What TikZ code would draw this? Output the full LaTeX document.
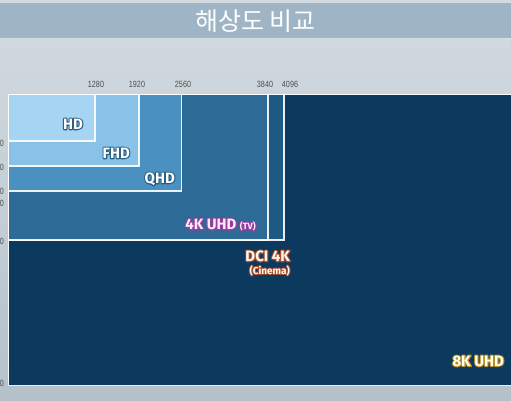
\documentclass[tikz,border=0pt]{standalone}
\usepackage{fontspec}
\setmainfont{Fira Sans}
\newfontfamily\krfont{Noto Sans CJK KR}
\newfontfamily\numfont[FakeStretch=0.8]{Liberation Sans}
% outlined text: #1 = stroke rgb, #2 = stroke width, #3 = text
\newcommand\outl[3]{\rlap{\special{pdf:literal direct #1 RG #2 w 1 j 1 Tr}#3\special{pdf:literal direct 0 Tr}}#3}
\definecolor{bgtop}{HTML}{D0D9DF}
\definecolor{bgbot}{HTML}{B4C1CA}
\definecolor{topstrip}{HTML}{D3DBE1}
\definecolor{titlebar}{HTML}{9FB5C5}
\definecolor{c8k}{HTML}{0C3A5E}
\definecolor{cdci}{HTML}{1C5983}
\definecolor{cuhd}{HTML}{2D6A96}
\definecolor{cqhd}{HTML}{4A90C0}
\definecolor{cfhd}{HTML}{88C2E8}
\definecolor{chd}{HTML}{A6D4F3}
\definecolor{numgray}{HTML}{4E4E4E}
\tikzset{
  res/.style={draw=white, draw opacity=0.9, line width=1.4pt},
  num/.style={font=\numfont\fontsize{9}{9}\selectfont, text=numgray, inner sep=0pt},
  lbl/.style={font=\fontsize{15}{15}\selectfont\bfseries, inner sep=0pt, anchor=east},
  sub/.style={font=\fontsize{10}{10}\selectfont\bfseries, inner sep=0pt, anchor=east}
}
\begin{document}
\begin{tikzpicture}[x=1pt,y=-1pt]
\useasboundingbox (0,0) rectangle (511,400);
\clip (0,0) rectangle (511,400);
% background
\shade[top color=bgtop, bottom color=bgbot] (0,38) rectangle (511,400);
\fill[topstrip] (0,0) rectangle (511,3);
\fill[titlebar] (0,3) rectangle (511,38);
\draw[white!55!titlebar, line width=1pt] (0,38.5) -- (511,38.5);
\node[text=white, inner sep=0pt] (title) at (255.5,21) {\krfont\fontsize{25}{25}\selectfont 해상도 비교};
% resolution rectangles
\filldraw[res, fill=c8k] (8.5,94.5) rectangle (540,385.5);
\filldraw[res, fill=cdci] (8.5,94.5) rectangle (284,240);
\filldraw[res, fill=cuhd] (8.5,94.5) rectangle (268,240);
\filldraw[res, fill=cqhd] (8.5,94.5) rectangle (181.5,191);
\filldraw[res, fill=cfhd] (8.5,94.5) rectangle (139,166);
\filldraw[res, fill=chd] (8.5,94.5) rectangle (95,141);
% top width labels
\node[num] (w1280) at (96,84) {1280};
\node[num] (w1920) at (137,84) {1920};
\node[num] (w2560) at (183,84) {2560};
\node[num] (w3840) at (265,84) {3840};
\node[num] (w4096) at (290,84) {4096};
% left height labels (cut off by the picture edge)
\node[num, anchor=east] (h1) at (4,143) {0};
\node[num, anchor=east] (h2) at (4,167) {0};
\node[num, anchor=east] (h3) at (4,191.5) {0};
\node[num, anchor=east] (h4) at (4,203) {0};
\node[num, anchor=east] (h5) at (4,241) {0};
\node[num, anchor=east] (h6) at (4,383) {0};
% format labels
\node[lbl, text=white] (hd) at (83,124) {\outl{0.16 0.36 0.51}{2.2}{HD}};
\node[lbl, text=white] (fhd) at (130,153) {\outl{0.16 0.36 0.51}{2.2}{FHD}};
\node[lbl, text=white] (qhd) at (175,179) {\outl{0.16 0.36 0.51}{2.2}{QHD}};
\node[lbl, text=white!92!magenta] (uhd) at (256,225) {\outl{0.6 0.24 0.64}{2.2}{4K UHD {\fontsize{9}{9}\selectfont(TV)}}};
\node[lbl, text=white!94!orange] (dci) at (290,256) {\outl{0.66 0.31 0.17}{2.2}{DCI 4K}};
\node[sub, text=white!94!orange] (cinema) at (290,270.5) {\outl{0.66 0.31 0.17}{1.8}{(Cinema)}};
\node[lbl, text=white!90!yellow] (k8) at (504,361) {\outl{0.72 0.54 0.16}{2.2}{8K UHD}};
\end{tikzpicture}
\end{document}
